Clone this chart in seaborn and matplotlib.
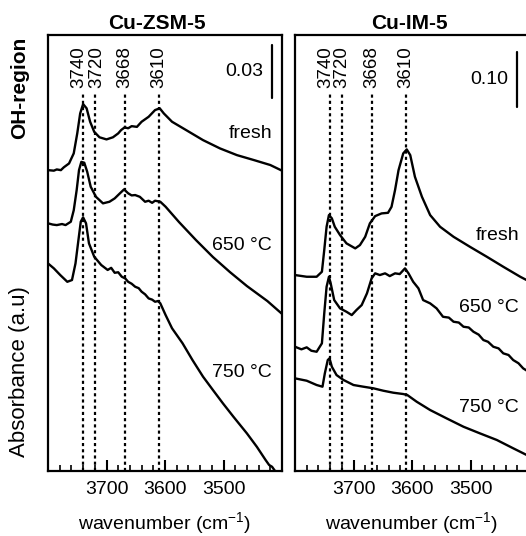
import numpy as np
import pandas as pd
import matplotlib
matplotlib.use("Agg")
import matplotlib.pyplot as plt
import seaborn as sns

# ---------------- data ----------------
peaks = [3740, 3720, 3668, 3610]
peak_labels = ["3740", "3720", "3668", "3610"]
xticks = [3700, 3600, 3500]
panel_titles = ["Cu-ZSM-5", "Cu-IM-5"]
series_names = ["fresh", "650 °C", "750 °C"]
scale_values = [0.03, 0.10]

# Cu-ZSM-5
zsm_fresh_wn = [3800, 3790, 3785, 3778, 3773, 3764, 3756, 3750, 3745, 3740, 3734, 3728, 3721, 3712,
                3700, 3689, 3680, 3675, 3669, 3663, 3657, 3648, 3640, 3628, 3617, 3609, 3602, 3588,
                3564, 3535, 3506, 3477, 3448, 3420, 3400]
zsm_fresh_a = [0.1703, 0.1700, 0.1707, 0.1703, 0.1719, 0.1741, 0.1798, 0.1911, 0.2024, 0.2077, 0.2053,
               0.1977, 0.1920, 0.1889, 0.1877, 0.1889, 0.1911, 0.1930, 0.1945, 0.1940, 0.1952, 0.1948,
               0.1977, 0.2005, 0.2043, 0.2053, 0.2024, 0.1977, 0.1930, 0.1873, 0.1826, 0.1788, 0.1760,
               0.1732, 0.1700]

zsm_650_wn = [3800, 3792, 3785, 3776, 3770, 3761, 3756, 3751, 3747, 3743, 3738, 3733, 3727, 3718, 3706,
              3700, 3695, 3686, 3677, 3670, 3663, 3657, 3651, 3643, 3634, 3628, 3622, 3617, 3608, 3599,
              3576, 3547, 3518, 3489, 3460, 3425, 3394]
zsm_650_a = [0.1402, 0.1395, 0.1392, 0.1398, 0.1392, 0.1411, 0.1476, 0.1590, 0.1703, 0.1750, 0.1745,
             0.1694, 0.1609, 0.1552, 0.1515, 0.1520, 0.1524, 0.1543, 0.1572, 0.1594, 0.1572, 0.1560,
             0.1562, 0.1552, 0.1524, 0.1530, 0.1518, 0.1530, 0.1524, 0.1496, 0.1409, 0.1307, 0.1211,
             0.1126, 0.1047, 0.0962, 0.0872]

zsm_750_wn = [3800, 3790, 3779, 3767, 3759, 3753, 3748, 3744, 3740, 3735, 3730, 3721, 3709, 3698, 3692,
              3686, 3680, 3674, 3668, 3663, 3657, 3651, 3645, 3640, 3634, 3628, 3622, 3617, 3612, 3608,
              3599, 3588, 3570, 3553, 3535, 3518, 3501, 3483, 3460, 3443, 3428, 3422, 3417, 3411, 3400]
zsm_750_a = [0.1175, 0.1147, 0.1109, 0.1071, 0.1081, 0.1175, 0.1307, 0.1411, 0.1436, 0.1402, 0.1289,
             0.1213, 0.1166, 0.1138, 0.1150, 0.1122, 0.1125, 0.1100, 0.1090, 0.1071, 0.1060, 0.1043,
             0.1035, 0.1015, 0.1000, 0.0977, 0.0970, 0.0958, 0.0962, 0.0949, 0.0883, 0.0808, 0.0723,
             0.0628, 0.0534, 0.0458, 0.0383, 0.0307, 0.0213, 0.0137, 0.0062, 0.0034, 0.0024, -0.0004,
             -0.0030]

# Cu-IM-5
im_fresh_wn = [3800, 3780, 3763, 3754, 3750, 3746, 3742, 3737, 3732, 3723, 3712, 3697, 3689, 3680, 3672,
               3663, 3652, 3641, 3635, 3629, 3623, 3615, 3609, 3603, 3595, 3583, 3569, 3552, 3529, 3501,
               3472, 3444, 3415, 3400]
im_fresh_a = [0.3564, 0.3533, 0.3533, 0.3624, 0.4018, 0.4442, 0.4655, 0.4595, 0.4442, 0.4291, 0.4140,
              0.4049, 0.4109, 0.4260, 0.4504, 0.4636, 0.4685, 0.4696, 0.4805, 0.5109, 0.5473, 0.5776,
              0.5849, 0.5745, 0.5351, 0.4987, 0.4655, 0.4442, 0.4260, 0.4078, 0.3896, 0.3715, 0.3533,
              0.3450]

im_650_wn = [3800, 3789, 3780, 3772, 3763, 3754, 3750, 3746, 3742, 3739, 3733, 3723, 3712, 3703, 3695,
             3686, 3677, 3669, 3663, 3655, 3646, 3638, 3629, 3621, 3612, 3606, 3598, 3589, 3581, 3569,
             3558, 3547, 3537, 3529, 3520, 3512, 3503, 3495, 3486, 3478, 3470, 3461, 3452, 3444, 3435,
             3427, 3418, 3410, 3400]
im_650_a = [0.2260, 0.2213, 0.2249, 0.2187, 0.2169, 0.2322, 0.2867, 0.3351, 0.3533, 0.3413, 0.3109,
            0.2958, 0.2896, 0.2836, 0.2927, 0.3018, 0.3231, 0.3504, 0.3595, 0.3564, 0.3595, 0.3545,
            0.3595, 0.3582, 0.3685, 0.3595, 0.3442, 0.3322, 0.3109, 0.3049, 0.2958, 0.2805, 0.2790,
            0.2715, 0.2700, 0.2624, 0.2610, 0.2533, 0.2480, 0.2382, 0.2350, 0.2260, 0.2230, 0.2140,
            0.2110, 0.2018, 0.1960, 0.1867, 0.1800]

im_750_wn = [3800, 3780, 3763, 3753, 3749, 3744, 3741, 3737, 3729, 3717, 3700, 3683, 3666, 3649, 3632,
             3615, 3608, 3592, 3569, 3541, 3512, 3484, 3455, 3427, 3400]
im_750_a = [0.1685, 0.1642, 0.1564, 0.1533, 0.1776, 0.2018, 0.2049, 0.1896, 0.1745, 0.1655, 0.1564,
            0.1533, 0.1504, 0.1460, 0.1424, 0.1400, 0.1382, 0.1260, 0.1109, 0.0958, 0.0805, 0.0685,
            0.0564, 0.0413, 0.0270]

panels = [
    [(zsm_fresh_wn, zsm_fresh_a), (zsm_650_wn, zsm_650_a), (zsm_750_wn, zsm_750_a)],
    [(im_fresh_wn, im_fresh_a), (im_650_wn, im_650_a), (im_750_wn, im_750_a)],
]

# ---------------- style ----------------
sns.set_theme(style="ticks")
plt.rcParams["font.family"] = ["Liberation Sans", "DejaVu Sans"]
plt.rcParams["mathtext.fontset"] = "custom"
plt.rcParams["mathtext.rm"] = "Liberation Sans"
plt.rcParams["mathtext.it"] = "Liberation Sans:italic"
plt.rcParams["mathtext.bf"] = "Liberation Sans:bold"
for k in ["text.color", "axes.labelcolor", "xtick.color", "ytick.color", "axes.edgecolor"]:
    plt.rcParams[k] = "black"

W, H = 526, 536
fig = plt.figure(figsize=(W / 100, H / 100), dpi=100)

ax_boxes = [(48, 35, 234, 436), (295, 35, 234, 436)]
ylims = [(0, 0.2468), (0, 0.793)]
label_y = [[0.773, 0.518, 0.225], [0.539, 0.374, 0.1445]]
scale_top = [0.2411, 0.7618]
title_x = [0.466, 0.49]

for i in range(2):
    x0, y0, w, h = ax_boxes[i]
    ax = fig.add_axes([x0 / W, (H - y0 - h) / H, w / W, h / H])
    for wn, a in panels[i]:
        df = pd.DataFrame({"wn": wn, "a": a})
        sns.lineplot(data=df, x="wn", y="a", ax=ax, color="black", lw=1.7, estimator=None)
    ax.set_xlim(3800, 3400)
    ax.set_ylim(*ylims[i])
    ax.set_xlabel("wavenumber (cm$^{\\mathrm{-1}}$)", fontsize=14, labelpad=9)
    ax.set_ylabel("")
    ax.set_yticks([])
    ax.set_xticks(xticks)
    ax.set_xticks(np.arange(3780, 3400, -20), minor=True)
    ax.tick_params(axis="x", which="major", direction="in", length=8, width=1.5,
                   labelsize=14, pad=7, top=False)
    ax.tick_params(axis="x", which="minor", direction="in", length=4, width=1.2, top=False)
    for s in ax.spines.values():
        s.set_linewidth(1.6)
        s.set_color("black")
    ax.set_title(panel_titles[i], fontsize=15, fontweight="bold", pad=4, x=title_x[i])

    # dotted peak markers
    for p, lab in zip(peaks, peak_labels):
        ax.axvline(p, ymin=0, ymax=0.865, color="black", lw=1.6, ls=(0, (1.4, 1.4)))
        dx = -4 if p == 3740 else (2 if p == 3720 and i == 0 else 0)
        ax.annotate(lab, xy=(p, 0.878), xycoords=("data", "axes fraction"),
                    xytext=(dx, 0), textcoords="offset pixels",
                    rotation=90, ha="center", va="bottom", fontsize=13.5)

    # series labels
    for name, yy in zip(series_names, label_y[i]):
        ax.text(0.957, yy, name, transform=ax.transAxes, ha="right", va="center", fontsize=14)

    # scale bar
    sx = 3417 if i == 0 else 3420
    top = scale_top[i]
    ax.plot([sx, sx], [top, top - scale_values[i]], color="black", lw=1.6, clip_on=False)
    ax.annotate(f"{scale_values[i]:.2f}", xy=(sx, top - scale_values[i] / 2),
                xytext=(-9, 0), textcoords="offset pixels", ha="right", va="center", fontsize=14)

fig.text(20 / W, 1 - 88 / H, "OH-region", rotation=90, ha="center", va="center",
         fontsize=15, fontweight="bold")
fig.text(20 / W, 1 - 372 / H, "Absorbance (a.u)", rotation=90, ha="center", va="center",
         fontsize=16)

fig.savefig("out.png", dpi=100)
